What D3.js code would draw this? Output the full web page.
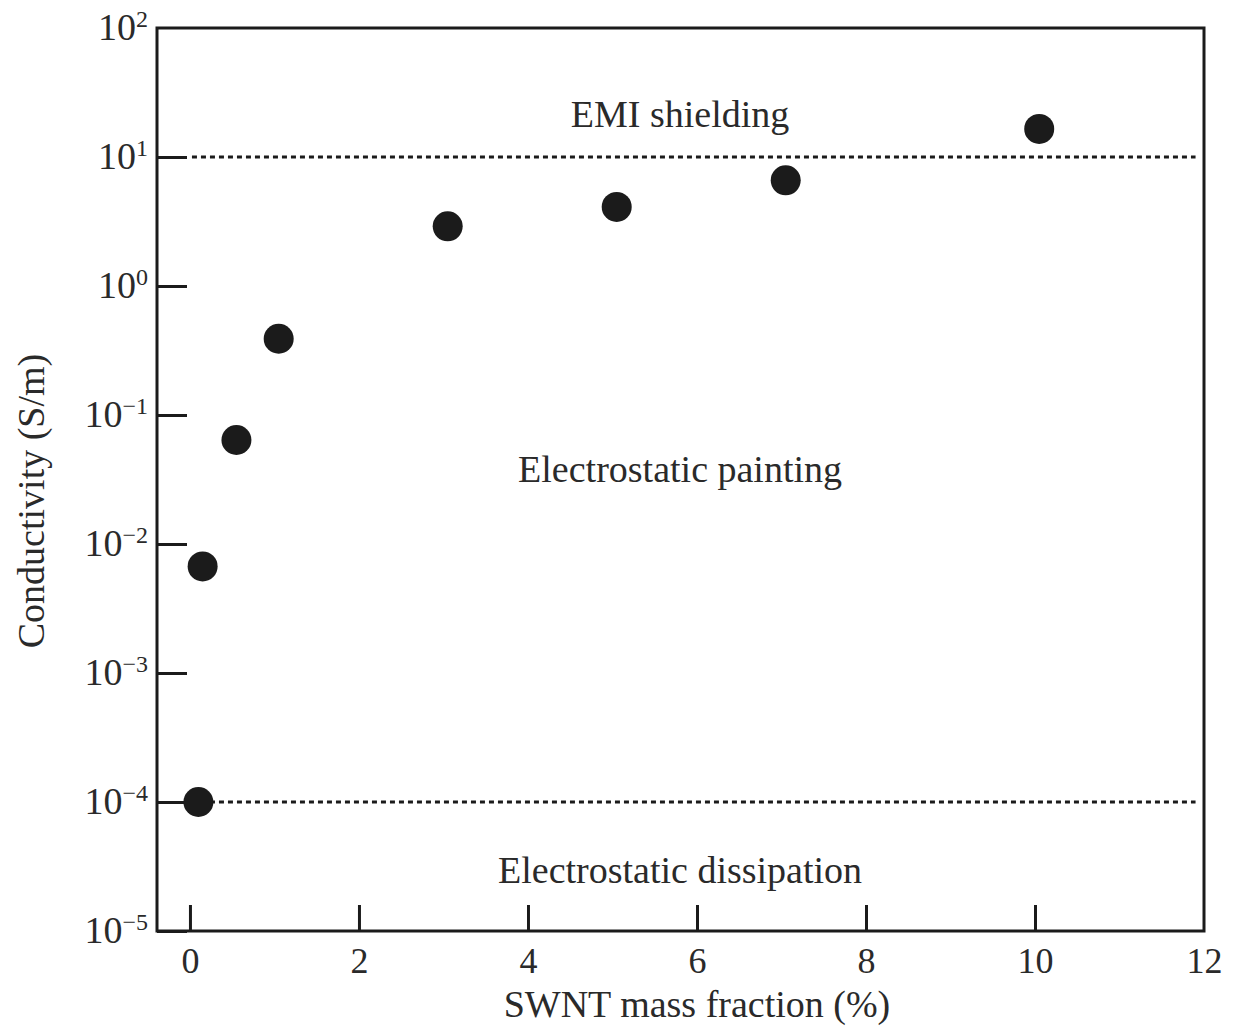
<!DOCTYPE html>
<html>
<head>
<meta charset="utf-8">
<script src="https://cdn.jsdelivr.net/npm/d3@7"></script>
<style>
  html, body { margin: 0; padding: 0; background: #fff; }
  svg text { font-family: "Liberation Serif", "DejaVu Serif", serif; fill: #2a2a2a; }
</style>
</head>
<body>
<svg id="chart" width="1234" height="1027"></svg>
<script>
// SWNT loading vs. electrical conductivity
const massFraction = [0.1, 0.15, 0.55, 1.05, 3.05, 5.05, 7.05, 10.05];
const conductivity = [1e-4, 6.7e-3, 0.064, 0.39, 2.9, 4.1, 6.6, 16.5];

const xTicks = [0, 2, 4, 6, 8, 10, 12];
const yExponents = [2, 1, 0, -1, -2, -3, -4, -5];

// Application thresholds (S/m) and region captions
const thresholds = [10, 1e-4];
const regionLabels = ["EMI shielding", "Electrostatic painting", "Electrostatic dissipation"];
const regionLabelX = [5.8, 5.8, 5.8];
const regionLabelY = [17, 0.030, 2.35e-5];

const svg = d3.select("#chart");
const margin = { left: 157, right: 30, top: 28, bottom: 96 };
const W = 1234, H = 1027;

const x = d3.scaleLinear().domain([-0.39, 12]).range([margin.left, W - margin.right]);
const y = d3.scaleLog().domain([1e-5, 1e2]).range([H - margin.bottom, margin.top]);

const ink = "#1b1b1b";

// Threshold lines
svg.append("g").selectAll("line").data(thresholds).join("line")
  .attr("x1", x(0) + 2).attr("x2", x(11.9))
  .attr("y1", d => y(d)).attr("y2", d => y(d))
  .attr("stroke", ink).attr("stroke-width", 3)
  .attr("stroke-dasharray", "5,4");

// Frame
svg.append("rect")
  .attr("x", x.range()[0]).attr("y", y.range()[1])
  .attr("width", x.range()[1] - x.range()[0])
  .attr("height", y.range()[0] - y.range()[1])
  .attr("fill", "none").attr("stroke", ink).attr("stroke-width", 3);

// X axis: inward ticks
const xAxis = d3.axisBottom(x).tickValues(xTicks).tickSize(-26).tickFormat(d3.format("d"));
const gx = svg.append("g").attr("transform", `translate(0,${y.range()[0]})`).call(xAxis);
gx.select(".domain").remove();
gx.selectAll(".tick line").attr("stroke", ink).attr("stroke-width", 3)
  .filter(d => d === 12).remove();
gx.selectAll(".tick text").attr("font-size", 36).attr("dy", 0).attr("y", 42)
  .style("font-family", "Liberation Serif, serif").attr("fill", "#2a2a2a");

// Y axis: inward ticks with power-of-ten labels
const yAxis = d3.axisLeft(y).tickValues(yExponents.map(e => Math.pow(10, e))).tickSize(-30).tickFormat("");
const gy = svg.append("g").attr("transform", `translate(${x.range()[0]},0)`).call(yAxis);
gy.select(".domain").remove();
gy.selectAll(".tick line").attr("stroke", ink).attr("stroke-width", 3)
  .filter(d => d >= 99).remove();

const labels = svg.append("g").selectAll("text").data(yExponents).join("text")
  .attr("x", 148).attr("y", e => y(Math.pow(10, e)) + 12)
  .attr("text-anchor", "end").attr("font-size", 38);
labels.append("tspan").text("10");
labels.append("tspan").attr("dy", -13).attr("font-size", 24)
  .text(e => String(e).replace("-", "\u2212"));

// Data points
svg.append("g").selectAll("circle").data(massFraction).join("circle")
  .attr("cx", d => x(d)).attr("cy", (d, i) => y(conductivity[i]))
  .attr("r", 15).attr("fill", ink);

// Region captions
svg.append("g").selectAll("text").data(regionLabels).join("text")
  .attr("x", (d, i) => x(regionLabelX[i]))
  .attr("y", (d, i) => y(regionLabelY[i]))
  .attr("text-anchor", "middle").attr("font-size", 38)
  .text(d => d);

// Axis titles
svg.append("text").attr("x", x(6)).attr("y", 1017)
  .attr("text-anchor", "middle").attr("font-size", 38)
  .text("SWNT mass fraction (%)");
svg.append("text").attr("transform", `translate(44,501) rotate(-90)`)
  .attr("text-anchor", "middle").attr("font-size", 38)
  .text("Conductivity (S/m)");
</script>
</body>
</html>
